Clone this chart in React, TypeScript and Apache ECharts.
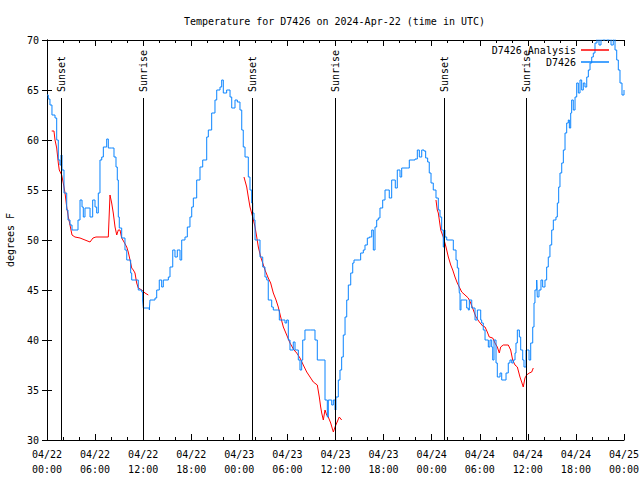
import React, { useEffect, useRef } from "react";
import * as echarts from "echarts";

const FONT = '"DejaVu Sans Mono", "Liberation Mono", monospace';

// hours since 2024-04-22 00:00 UTC
const blueHours = [0,0.16,0.37,0.62,1.00,1.21,1.41,1.62,1.75,1.87,2.12,2.46,2.62,2.87,3.12,3.49,3.87,4.12,4.37,4.53,4.74,5.28,5.37,5.70,5.99,6.20,6.40,6.61,6.83,7.03,7.45,7.65,8.07,8.36,8.61,8.77,8.90,9.02,9.32,9.73,9.95,10.44,10.57,11.19,11.39,11.82,11.94,12.02,12.77,12.85,13.48,13.69,14.01,14.31,14.51,15.14,15.35,15.69,15.97,16.26,16.60,16.81,17.22,17.51,17.84,18.06,18.26,18.68,19.09,19.43,19.93,20.13,20.55,20.96,21.18,21.59,21.80,22.00,22.42,22.84,23.05,23.46,23.75,24.08,24.30,24.49,24.71,25.12,25.33,25.54,25.67,25.83,25.96,26.37,26.58,26.92,27.20,27.42,27.61,28.04,28.24,28.74,28.99,29.41,29.70,29.91,30.11,30.32,30.73,30.95,31.36,31.57,31.78,31.91,32.19,32.90,33.44,33.73,34.56,34.69,34.98,35.10,35.31,35.53,35.73,35.94,36.06,36.35,36.56,36.77,36.97,37.19,37.40,37.60,37.90,38.15,38.31,38.97,39.14,39.47,39.68,39.97,40.22,40.52,40.72,40.93,41.14,41.34,41.55,41.89,42.18,42.46,42.71,43.01,43.30,43.46,43.71,44.05,44.26,44.96,45.21,45.92,46.21,46.46,46.76,47.04,47.25,47.50,47.70,47.92,48.20,48.54,48.83,49.04,49.25,49.45,49.54,49.66,49.88,50.57,50.70,51.04,51.20,51.37,51.45,51.54,51.66,52.16,52.37,52.57,52.70,53.00,53.41,53.70,53.95,54.12,54.24,54.44,54.66,54.87,55.07,55.28,55.49,55.62,55.78,56.03,56.19,56.53,56.74,57.03,57.28,57.56,57.77,57.99,58.19,58.40,58.52,58.69,58.94,59.11,59.36,59.52,59.77,59.93,60.15,60.36,60.61,60.77,60.89,61.11,61.18,61.39,61.64,61.85,62.14,62.35,62.55,62.76,62.98,63.18,63.51,63.68,63.85,64.01,64.23,64.43,64.64,64.85,65.05,65.18,65.35,65.47,65.67,65.89,66.10,66.30,66.51,66.72,66.92,67.13,67.35,67.55,67.76,67.97,68.17,68.38,68.63,68.88,69.13,69.38,69.63,69.88,70.13,70.38,70.66,70.88,71.09,71.29,71.50,71.75,72.00];
const blueTemps = [64.5,64.1,63.5,62.5,62.2,60,58,57.5,58.5,57,54.7,53,52,51.5,51,51,52,54,53.3,52.3,53.2,53.2,52.3,54,53.3,52.7,54.7,58,58.3,59.3,60.1,59.2,59.2,58.3,57.3,56,52.3,51.2,50.2,49,48,46.7,46,46,45,44.8,44,43.2,43,44,44.2,45,46,45.3,46,46.3,47.3,49,48.3,49,48,50,50.3,51.3,52.3,53.3,54.2,56,57.3,58,60.3,61,62.7,64,65,65.3,66,64.7,65,64.3,63.2,64,63.8,63,61,59.3,58.3,56.3,55,53.7,52.7,52,50,50,48.3,47.3,46.3,46,44,43.3,43,43,42,42,41.7,42,40,39,39.8,39,38,37,38,40,41,41,40,38,38,34,32.3,34,34,33.5,34,33,34.3,36,37,38.3,40.5,42.3,44,45.5,46.7,47.7,48,48,48.7,49,49.5,50.2,50.3,51,49,51.3,52,52.2,53.2,54,55,55,54.2,56,56,55.2,57,56.3,57.2,57.2,58,58.1,59,58.3,59,58.9,58.2,57.8,56.7,55.7,55,54.2,53,52.3,51,49.3,51,50.3,50,50,49,48,47.2,46,44.7,43,44,44,43.2,43,44,43.2,42,43,43,42,41.7,41,40,40,39.3,40,39.3,38,40,37.7,36.3,36.7,36,36,36.7,37.7,38,37.7,38,38.7,39.7,41,40.3,39,38,37.3,39,39,38,39.7,41.3,43.7,45,46,44.3,45,46,45.3,46,47.3,48.3,49.5,51,52,52.3,53.7,55.3,56.7,57.7,59,60.7,61.7,62,61.2,62.7,64,63,64.3,65.7,64.7,66,65,65.7,65.3,66.3,67,67.7,68.3,68.7,69.7,70.5,69.5,71,70,71,70,70.8,69.5,70.5,69,68,67,65.7,64.5,65];

const redHours1 = [0.59,0.87,1.00,1.21,1.41,1.53,1.71,1.83,2.03,2.25,2.46,2.66,2.87,3.12,3.49,4.12,4.74,5.37,5.74,6.11,6.61,7.65,7.77,7.86,8.07,8.27,8.49,8.70,8.90,9.11,9.32,9.61,9.95,10.14,10.36,10.57,10.77,10.98,11.19,11.39,11.82,12.23,12.64];
const redTemps1 = [60.9,60.9,60,59.2,57.7,57,56.7,56.5,55.7,54.7,53.3,52.3,51.5,50.5,50.3,50.2,50,49.8,50.2,50.3,50.3,50.3,52.7,54.5,53.7,52.7,51.3,50.5,51,51,50.2,49.8,49.3,48.8,48,47.2,47,46.7,45.7,45.2,45,44.7,44.5];
const redHours2 = [24.58,24.92,25.12,25.33,25.67,25.96,26.17,26.37,26.67,26.92,27.20,27.61,27.91,28.24,28.58,28.86,29.16,29.49,29.91,30.32,30.82,31.16,31.57,31.98,32.41,32.82,33.23,33.73,33.98,34.15,34.28,34.48,34.69,34.90,35.10,35.40,35.73,35.94,36.15,36.47,36.77];
const redTemps2 = [56.3,55.3,54.3,53.3,52.3,51.3,50.3,49.3,48.3,47.7,47,46.2,45.7,44.7,44,43.3,42.3,41.3,40.5,39.7,39,38.7,38.2,37.5,36.8,36.3,35.8,35.5,34.3,33.3,32.7,32,33,32.5,32.3,31.7,30.8,31.3,31.7,32.3,32];
const redHours3 = [48.54,48.70,48.83,49.13,49.45,49.79,50.08,50.38,50.63,50.91,51.20,51.45,51.75,52.16,52.57,52.87,53.20,53.53,53.95,54.37,54.66,54.94,55.19,55.62,55.90,56.19,56.44,56.61,56.94,57.56,57.86,58.11,58.40,58.69,59.02,59.23,59.43,59.64,59.85,60.18,60.48,60.68];
const redTemps3 = [54,53,52.7,51,50.3,49.3,48.3,47.5,47,46.3,45.7,45.3,44.8,44.5,44.2,43.7,43,42.3,41.8,41.4,41.3,40.8,40.3,40.2,39.7,39.3,38.7,39.3,39.5,39.5,39,38,37.5,37.3,36.3,35.8,35.3,36.2,36.5,36.7,36.8,37.2];

const sunHours = [1.71, 12.02, 25.63, 35.92, 49.54, 59.77];
const sunLabels = ["Sunset", "Sunrise", "Sunset", "Sunrise", "Sunset", "Sunrise"];

const TITLE = "Temperature for D7426 on 2024-Apr-22 (time in UTC)";
const RED_NAME = "D7426 Analysis";
const BLUE_NAME = "D7426";
const BLUE = "#0a84ff";
const RED = "#ff0000";

const zip = (xs: number[], ys: number[]) => xs.map((x, i) => [x, ys[i]]);

const fmtX = (v: number) => {
  const day = 22 + Math.floor(v / 24);
  const hh = Math.round(v % 24);
  return `04/${day}\n${String(hh).padStart(2, "0")}:00`;
};

export default function App() {
  const ref = useRef<HTMLDivElement>(null);
  useEffect(() => {
    if (!ref.current) return;
    const chart = echarts.init(ref.current, null, { renderer: "svg" });
    const axisCommon = {
      axisLine: { show: true, lineStyle: { color: "#000", width: 1 } },
      splitLine: { show: false },
    };
    const redSeries = [
      zip(redHours1, redTemps1),
      zip(redHours2, redTemps2),
      zip(redHours3, redTemps3),
    ].map((d) => ({
      type: "line",
      name: RED_NAME,
      data: d,
      symbol: "none",
      showSymbol: false,
      lineStyle: { color: RED, width: 1 },
      itemStyle: { color: RED },
      z: 2,
    }));
    chart.setOption({
      animation: false,
      backgroundColor: "#fff",
      textStyle: { fontFamily: FONT },
      title: {
        text: TITLE,
        left: 179,
        top: 11,
        textStyle: { fontFamily: FONT, fontSize: 10, fontWeight: "normal", color: "#000" },
      },
      legend: {
        data: [RED_NAME, BLUE_NAME],
        orient: "vertical",
        align: "right",
        right: 26,
        top: 40,
        icon: "rect",
        itemWidth: 28,
        itemHeight: 1.5,
        itemGap: 2,
        textStyle: { fontFamily: FONT, fontSize: 10, color: "#000", lineHeight: 10 },
      },
      grid: {
        left: 47,
        right: 16,
        top: 40,
        bottom: 40,
        containLabel: false,
        outerBoundsMode: "none",
      },
      xAxis: [
        {
          type: "value",
          min: 0,
          max: 72,
          interval: 6,
          position: "bottom",
          ...axisCommon,
          axisTick: { show: true, inside: true, length: 6, lineStyle: { color: "#000" } },
          minorTick: { show: true, splitNumber: 3, length: 3, lineStyle: { color: "#000" } },
          axisLabel: {
            formatter: fmtX,
            color: "#000",
            fontFamily: FONT,
            fontSize: 10,
            lineHeight: 15,
            margin: 7,
            showMinLabel: true,
            showMaxLabel: true,
          },
        },
        {
          type: "value",
          min: 0,
          max: 72,
          interval: 6,
          position: "top",
          ...axisCommon,
          axisTick: { show: true, inside: true, length: 6, lineStyle: { color: "#000" } },
          minorTick: { show: true, splitNumber: 3, length: 3, lineStyle: { color: "#000" } },
          axisLabel: { show: false },
        },
      ],
      yAxis: [
        {
          type: "value",
          min: 30,
          max: 70,
          interval: 5,
          position: "left",
          ...axisCommon,
          name: "degrees F",
          nameLocation: "middle",
          nameGap: 32,
          nameTextStyle: { fontFamily: FONT, fontSize: 10, color: "#000" },
          axisTick: { show: true, inside: true, length: 5, lineStyle: { color: "#000" } },
          axisLabel: { color: "#000", fontFamily: FONT, fontSize: 10, margin: 8 },
        },
        {
          type: "value",
          min: 30,
          max: 70,
          interval: 5,
          position: "right",
          ...axisCommon,
          axisTick: { show: true, inside: true, length: 5, lineStyle: { color: "#000" } },
          axisLabel: { show: false },
        },
      ],
      series: [
        ...redSeries,
        {
          type: "line",
          name: BLUE_NAME,
          data: zip(blueHours, blueTemps),
          step: "end",
          symbol: "none",
          showSymbol: false,
          lineStyle: { color: BLUE, width: 1 },
          itemStyle: { color: BLUE },
          z: 3,
        },
        {
          type: "custom",
          name: "sun",
          silent: true,
          data: sunHours.map((h) => [h, 30]),
          encode: { x: 0, y: 1 },
          z: 4,
          renderItem: (params: any, api: any) => {
            const h = api.value(0);
            const b = api.coord([h, 30]);
            const t = api.coord([h, 70]);
            const x = Math.round(b[0]) + 0.5;
            return {
              type: "group",
              children: [
                {
                  type: "line",
                  shape: { x1: x, y1: b[1], x2: x, y2: t[1] + 58 },
                  style: { stroke: "#000", lineWidth: 1 },
                },
                {
                  type: "text",
                  x: x,
                  y: t[1] + 52,
                  rotation: Math.PI / 2,
                  style: {
                    text: sunLabels[params.dataIndex],
                    fill: "#000",
                    font: `10px ${FONT}`,
                    align: "left",
                    verticalAlign: "middle",
                  },
                },
              ],
            };
          },
        },
      ],
    });
    return () => chart.dispose();
  }, []);
  return (
    <div
      ref={ref}
      style={{ position: "fixed", left: 0, top: 0, width: 640, height: 480, background: "#fff" }}
    />
  );
}
